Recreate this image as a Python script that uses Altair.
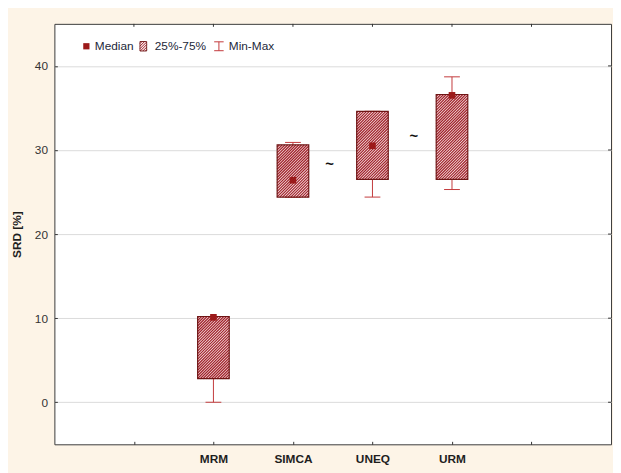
import math
import altair as alt
import pandas as pd

# ---- data ----
categories = ["MRM", "SIMCA", "UNEQ", "URM"]
q1 = [2.8, 24.4, 26.5, 26.5]
q3 = [10.2, 30.6, 34.6, 36.6]
median = [10.1, 26.4, 30.5, 36.5]
mins = [0.0, 24.4, 24.4, 25.3]
maxs = [10.2, 30.9, 34.6, 38.7]
axis_slots = ["", "MRM", "SIMCA", "UNEQ", "URM", ""]
y_ticks = [0, 10, 20, 30, 40]
tilde_x = [3.46, 4.52]          # between SIMCA/UNEQ and UNEQ/URM
tilde_y = [28.3, 31.6]
legend_labels = ["Median", "25%-75%", "Min-Max"]

W, H = 564, 426
XMIN, XMAX = 0, 7
YMIN, YMAX = -5, 45
PXX = W / (XMAX - XMIN)
PXY = H / (YMAX - YMIN)
BOX_W = 32
CAP_W = 16
FONT = "Liberation Sans, Arial, sans-serif"
DARK = "#A0212A"
LIGHT = "#FBEDED"
BOX_STROKE = "#6E1515"
WHISK = "#C2393B"
MED = "#9C1A1A"

xpos = [axis_slots.index(c) + 1 for c in categories]
df = pd.DataFrame({"cat": categories, "xp": xpos, "q1": q1, "q3": q3, "median": median,
                   "min": mins, "max": maxs})
df["xl"] = df["xp"] - BOX_W / 2 / PXX
df["xr"] = df["xp"] + BOX_W / 2 / PXX
df["cl"] = df["xp"] - CAP_W / 2 / PXX
df["cr"] = df["xp"] + CAP_W / 2 / PXX
tdf = pd.DataFrame({"x": tilde_x, "y": tilde_y})


def hatch_lines(w, h, step=2.8):
    """Segments of '////' hatching inside a w x h pixel box (u right, v up)."""
    segs = []
    k = -w + step / 2
    while k < h:
        u1, u2 = max(0.0, -k), min(w, h - k)
        if u2 > u1:
            segs.append((u1, u1 + k, u2, u2 + k))
        k += step
    return segs


rows = []
for c, xc, a, b in zip(categories, xpos, q1, q3):
    h = (b - a) * PXY
    x0 = xc - BOX_W / 2 / PXX
    for (u1, v1, u2, v2) in hatch_lines(BOX_W, h):
        rows.append({"cat": c, "hx": x0 + u1 / PXX, "hy": a + v1 / PXY,
                     "hx2": x0 + u2 / PXX, "hy2": a + v2 / PXY})
hdf = pd.DataFrame(rows)

xscale = alt.Scale(domain=[XMIN, XMAX], nice=False, zero=False)
yscale = alt.Scale(domain=[YMIN, YMAX], nice=False, zero=False)
lab_expr = "[" + ",".join("'%s'" % s for s in axis_slots) + "][datum.value - 1]"
xaxis = alt.Axis(values=list(range(1, len(axis_slots) + 1)), labelExpr=lab_expr, title=None,
                 labelFont=FONT, labelFontSize=12, labelFontWeight="bold",
                 labelColor="#1e1e1e", labelAngle=0, domain=False, grid=False,
                 tickSize=3, tickColor="#333", offset=-3, labelPadding=9)
yaxis = alt.Axis(values=y_ticks, title="SRD [%]", titleFont=FONT, titleFontSize=12,
                 titleFontWeight="bold", titleColor="#1e1e1e", titlePadding=11,
                 labelFont=FONT, labelFontSize=12, labelColor="#333", domain=False,
                 grid=True, gridColor="#DADADA", tickSize=3, tickColor="#333",
                 offset=-3, labelPadding=7)

base = alt.Chart(df)
X = lambda f: alt.X(f, scale=xscale, axis=xaxis)
Y = lambda f: alt.Y(f, scale=yscale, axis=yaxis)

whisker = base.mark_rule(color=WHISK, strokeWidth=1).encode(
    x=X("xp:Q"), y=Y("min:Q"), y2="max:Q")
cap_lo = base.mark_rule(color=WHISK, strokeWidth=1).encode(x=X("cl:Q"), x2="cr:Q", y=Y("min:Q"))
cap_hi = base.mark_rule(color=WHISK, strokeWidth=1).encode(x=X("cl:Q"), x2="cr:Q", y=Y("max:Q"))
box_fill = base.mark_rect(fill=LIGHT, strokeWidth=0).encode(
    x=X("xl:Q"), x2="xr:Q", y=Y("q1:Q"), y2="q3:Q")
hatch = alt.Chart(hdf).mark_rule(color=DARK, strokeWidth=1.25).encode(
    x=X("hx:Q"), x2="hx2:Q", y=Y("hy:Q"), y2="hy2:Q")
box_edge = base.mark_rect(fill=None, filled=False, stroke=BOX_STROKE, strokeWidth=1.2).encode(
    x=X("xl:Q"), x2="xr:Q", y=Y("q1:Q"), y2="q3:Q")
med = base.mark_square(size=45, color=MED, opacity=1).encode(x=X("xp:Q"), y=Y("median:Q"))
tilde = alt.Chart(tdf).mark_text(text="~", fontSize=15, fontWeight="bold", color="#111",
                                 font=FONT).encode(x=X("x:Q"), y=Y("y:Q"))

# inward ticks on top and right edges (mirroring the bottom / left axes)
top_ticks = alt.Chart(pd.DataFrame({"v": list(range(1, len(axis_slots) + 1))})).mark_rule(
    color="#333", strokeWidth=1).encode(x=X("v:Q"), y=alt.value(0), y2=alt.value(3))
right_ticks = alt.Chart(pd.DataFrame({"v": y_ticks})).mark_rule(
    color="#333", strokeWidth=1).encode(y=Y("v:Q"), x=alt.value(W - 3), x2=alt.value(W))

layers = [whisker, cap_lo, cap_hi, box_fill, hatch, box_edge, med, tilde, top_ticks, right_ticks]

# ---- legend (drawn inside the plot, top-left) ----
leg_y = 22.7
ld = pd.DataFrame({"label": legend_labels})


def one(lbl):
    return alt.Chart(ld).transform_filter(alt.datum.label == lbl)


icon_l, icon_r, icon_t, icon_b = 86.7, 93.5, leg_y - 4.8, leg_y + 4.8
irows = []
for (u1, v1, u2, v2) in hatch_lines(icon_r - icon_l, icon_b - icon_t, step=2.6):
    irows.append({"px": icon_l + u1, "py": icon_b - v1, "px2": icon_l + u2, "py2": icon_b - v2})
idf = pd.DataFrame(irows)

leg_sq = one("Median").mark_square(size=40, color=MED, opacity=1).encode(
    x=alt.value(32.4), y=alt.value(leg_y))
leg_fill = one("25%-75%").mark_rect(fill=LIGHT).encode(
    x=alt.value(icon_l), x2=alt.value(icon_r), y=alt.value(icon_t), y2=alt.value(icon_b))
leg_hatch = alt.Chart(idf).mark_rule(color=DARK, strokeWidth=1).encode(
    x=alt.X("px:Q", scale=None), x2="px2:Q", y=alt.Y("py:Q", scale=None), y2="py2:Q")
leg_edge = one("25%-75%").mark_rect(fill=None, filled=False, stroke=BOX_STROKE, strokeWidth=0.9).encode(
    x=alt.value(icon_l), x2=alt.value(icon_r), y=alt.value(icon_t), y2=alt.value(icon_b))
leg_w1 = one("Min-Max").mark_rule(color=WHISK, strokeWidth=1).encode(
    x=alt.value(166.7), y=alt.value(leg_y - 4.5), y2=alt.value(leg_y + 4.5))
leg_w2 = one("Min-Max").mark_rule(color=WHISK, strokeWidth=1).encode(
    x=alt.value(161.9), x2=alt.value(171.5), y=alt.value(leg_y - 4.5))
leg_w3 = one("Min-Max").mark_rule(color=WHISK, strokeWidth=1).encode(
    x=alt.value(161.9), x2=alt.value(171.5), y=alt.value(leg_y + 4.5))
layers += [leg_sq, leg_fill, leg_hatch, leg_edge, leg_w1, leg_w2, leg_w3]
for lbl, lx in zip(legend_labels, [41, 101.7, 176.7]):
    layers.append(one(lbl).mark_text(align="left", baseline="middle", font=FONT, fontSize=12,
                                     color="#23283a").encode(
        text="label:N", x=alt.value(lx), y=alt.value(leg_y)))

chart = alt.layer(*layers).properties(
    width=W, height=H,
    autosize=alt.AutoSizeParams(type="none"),
    padding={"left": 47, "top": 13, "right": 2, "bottom": 26},
    background="#FDF4E7",
).configure_view(stroke="#3a3a3a", strokeWidth=1, fill="white")

chart.save("out.html", embed_options={"renderer": "svg", "actions": False})
